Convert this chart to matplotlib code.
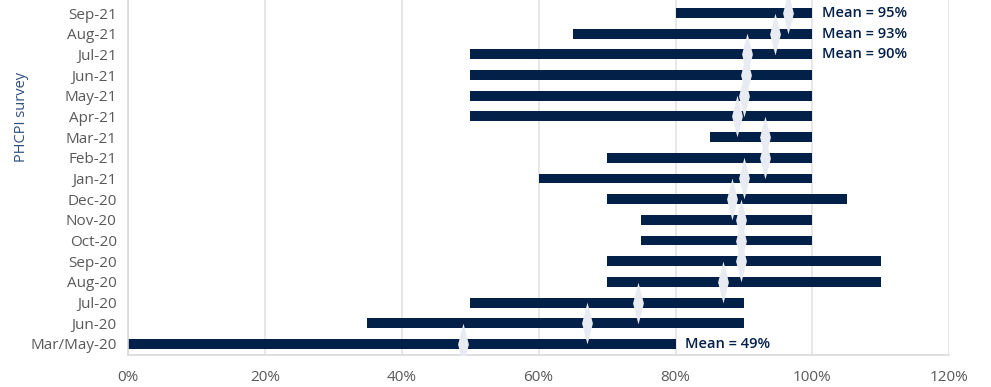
import matplotlib.pyplot as plt
from matplotlib.ticker import PercentFormatter

# anket dönemleri (alttan üste)
surveys = ["Mar/May-20", "Jun-20", "Jul-20", "Aug-20", "Sep-20", "Oct-20",
           "Nov-20", "Dec-20", "Jan-21", "Feb-21", "Mar-21", "Apr-21",
           "May-21", "Jun-21", "Jul-21", "Aug-21", "Sep-21"]
# aralık başı ve sonu (%)
low = [0, 35, 50, 70, 70, 75, 75, 70, 60, 70, 85, 50, 50, 50, 50, 65, 80]
high = [80, 90, 90, 110, 110, 100, 100, 105, 100, 100, 100, 100, 100, 100, 100, 100, 100]
# ortalama (%)
mean = [49, 67, 74.5, 87, 89.6, 89.6, 89.6, 88.3, 90, 93, 93, 89, 90, 90.3, 90.4, 94.6, 96.5]
# etiketler: satır -> yazı
meanLabels = {16: "Mean = 95%", 15: "Mean = 93%", 14: "Mean = 90%", 0: "Mean = 49%"}

navy = "#032049"
grey = "#595959"

plt.rcParams['font.family'] = ['Open Sans', 'DejaVu Sans']

fig = plt.figure(figsize=(9.91, 3.87), dpi=100)
ax = fig.add_axes([0.129, 0.083, 0.829, 0.917])

# ince elmas işaret
thinDiamond = [(0, 1), (0.26, 0), (0, -1), (-0.26, 0), (0, 1)]

y = list(range(len(surveys)))
ax.barh(y, [h - l for l, h in zip(low, high)], left=low, height=0.48,
        color=navy, zorder=2)
ax.plot(mean, y, linestyle="none", marker=thinDiamond, markersize=30,
        markerfacecolor="#E8ECF2", markeredgecolor="none", zorder=3)

for i, txt in meanLabels.items():
    ax.text(high[i] + 1.4, i, txt, va="center", ha="left", fontsize=10.5,
            color=navy, fontweight="semibold")

ax.set_xlim(0, 120)
ax.set_ylim(-0.53, 16.63)
ax.set_xticks(range(0, 121, 20))
ax.xaxis.set_major_formatter(PercentFormatter(decimals=0))
ax.set_yticks(y)
ax.set_yticklabels(surveys)
ax.tick_params(axis="both", length=0, labelsize=11, labelcolor=grey)
ax.tick_params(axis="x", pad=11)
ax.tick_params(axis="y", pad=8)
ax.grid(axis="x", color="#E3E3E3", linewidth=1.2, zorder=0)
for s in ["top", "right"]:
    ax.spines[s].set_visible(False)
for s in ["left", "bottom"]:
    ax.spines[s].set_color("#D9D9D9")
    ax.spines[s].set_linewidth(1.2)

fig.text(22 / 991, 1 - 117 / 387, "PHCPI survey", rotation=90, va="center",
         ha="center", fontsize=10.5, color="#2E4F80")

fig.savefig("out.png", dpi=100)
